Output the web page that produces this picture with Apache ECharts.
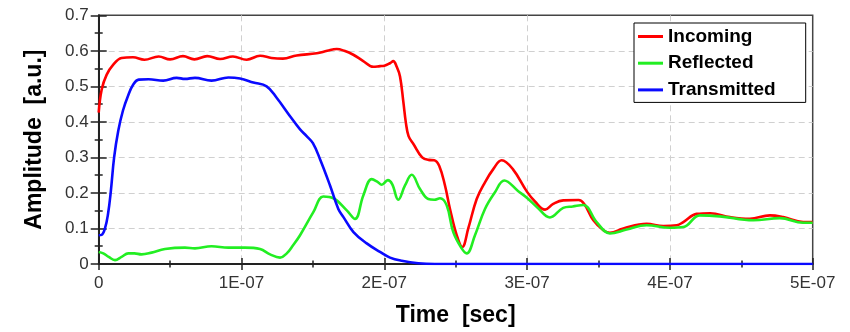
<!DOCTYPE html>
<html>
<head>
<meta charset="utf-8">
<script src="https://cdn.jsdelivr.net/npm/echarts@6/dist/echarts.min.js"></script>
<style>
html,body{margin:0;padding:0;background:#fff;}
#chart{width:850px;height:332px;}
</style>
</head>
<body>
<div id="chart"></div>
<script>
// time in ns
const xTickLabels = ['0', '1E-07', '2E-07', '3E-07', '4E-07', '5E-07'];
const yTickLabels = ['0', '0.1', '0.2', '0.3', '0.4', '0.5', '0.6', '0.7'];
const seriesNames = ['Incoming', 'Reflected', 'Transmitted'];

const incomingT = [0, 2.1, 5.6, 10.2, 16, 24, 32, 42, 50, 59, 67, 76, 85, 94, 103.6, 113, 121, 129, 138.6, 152.7, 160, 166.7, 172, 178.3, 185, 192.3, 197, 200, 204, 206.3, 208.6, 211, 213.4, 215.1, 217, 220.5, 226.5, 231, 235, 238.5, 242.5, 246, 250.7, 254.6, 258.8, 264.7, 270.5, 276.3, 282.2, 290, 300, 305.5, 312.6, 318.3, 325.3, 336, 340, 346.4, 353.4, 358, 367.4, 383.7, 395.4, 404.8, 409.4, 418.8, 428.2, 442, 456, 470, 479.4, 493.4, 500];
const incomingV = [0.426, 0.491, 0.533, 0.561, 0.580, 0.582, 0.575, 0.584, 0.576, 0.585, 0.576, 0.585, 0.577, 0.584, 0.575, 0.586, 0.580, 0.578, 0.587, 0.593, 0.600, 0.605, 0.600, 0.589, 0.572, 0.555, 0.557, 0.558, 0.565, 0.571, 0.556, 0.528, 0.454, 0.398, 0.360, 0.337, 0.300, 0.293, 0.292, 0.276, 0.221, 0.155, 0.081, 0.048, 0.100, 0.183, 0.230, 0.267, 0.292, 0.267, 0.203, 0.176, 0.153, 0.169, 0.179, 0.180, 0.169, 0.123, 0.095, 0.088, 0.100, 0.113, 0.107, 0.109, 0.118, 0.141, 0.143, 0.132, 0.127, 0.137, 0.132, 0.118, 0.118];

const reflectedT = [0, 3.2, 7, 11.4, 16, 20.7, 25, 30, 37, 46.4, 60.4, 67.4, 79, 90.8, 102.4, 113, 120, 127, 131.7, 136, 141, 150.3, 157.3, 164.3, 173.7, 179.5, 185.3, 191.2, 195, 198.2, 202.5, 205.5, 209.8, 214.5, 219.2, 225, 230.8, 235, 239, 243.7, 248.3, 254.2, 257.7, 263.5, 270.5, 277.5, 284, 293.8, 300, 307, 316, 325.3, 332, 339.4, 348.7, 358, 369.7, 383.7, 400, 409.4, 421, 435, 458.4, 477, 493.4, 500];
const reflectedV = [0.034, 0.030, 0.020, 0.011, 0.020, 0.030, 0.030, 0.027, 0.032, 0.042, 0.046, 0.044, 0.050, 0.046, 0.046, 0.042, 0.027, 0.018, 0.030, 0.052, 0.081, 0.146, 0.190, 0.185, 0.151, 0.127, 0.193, 0.239, 0.232, 0.223, 0.236, 0.225, 0.181, 0.221, 0.251, 0.211, 0.183, 0.181, 0.185, 0.165, 0.090, 0.044, 0.030, 0.081, 0.155, 0.202, 0.235, 0.205, 0.186, 0.160, 0.131, 0.158, 0.162, 0.166, 0.118, 0.086, 0.097, 0.109, 0.102, 0.104, 0.137, 0.134, 0.123, 0.129, 0.116, 0.116];

const transmittedT = [0, 2, 4.4, 6.5, 8.5, 10.8, 13.7, 17, 20.7, 24.2, 28, 35, 45.2, 54.6, 60.4, 67.4, 79, 90.8, 99, 108.3, 117.6, 124.6, 134, 141, 145.6, 150, 155, 162, 167.8, 171.4, 178.4, 187.7, 197, 204, 212.2, 223.8, 235.5, 260, 500];
const transmittedV = [0.081, 0.082, 0.100, 0.140, 0.205, 0.300, 0.375, 0.432, 0.475, 0.505, 0.519, 0.520, 0.516, 0.524, 0.521, 0.524, 0.516, 0.525, 0.522, 0.511, 0.500, 0.468, 0.416, 0.379, 0.360, 0.340, 0.295, 0.221, 0.155, 0.132, 0.090, 0.058, 0.034, 0.018, 0.009, 0.002, 0.000, 0.000, 0.000];

const colors = ['#ff0000', '#22ee22', '#0a0aff'];
const FONT = '"Liberation Sans", Arial, sans-serif';

function pairs(t, v) { return t.map((x, i) => [x, v[i]]); }

const chart = echarts.init(document.getElementById('chart'), null, { renderer: 'canvas' });

const xBase = { type: 'value', min: 0, max: 500, interval: 100, gridIndex: 0, position: 'bottom' };
const yBase = { type: 'value', min: 0, max: 0.7, interval: 0.1, gridIndex: 0, position: 'left' };
const gridSplit = { show: true, showMinLine: false, showMaxLine: false, lineStyle: { color: '#d0d0d0', type: [6, 4], width: 1 } };

chart.setOption({
  animation: false,
  backgroundColor: '#fff',
  grid: {
    left: 98.7, right: 37.3, top: 15.3, bottom: 66.4,
    show: true, borderColor: '#444', borderWidth: 1.5, backgroundColor: 'transparent'
  },
  legend: {
    orient: 'vertical',
    left: 634, top: 23,
    data: seriesNames.map((n) => ({ name: n, icon: 'rect' })),
    itemWidth: 25, itemHeight: 3, itemGap: 7.7,
    padding: [4, 30, 3, 4],
    borderColor: '#000', borderWidth: 1, backgroundColor: '#fff',
    textStyle: { fontFamily: FONT, fontSize: 19, fontWeight: 'bold', color: '#000' }
  },
  xAxis: [
    Object.assign({}, xBase, {
      name: 'Time  [sec]', nameLocation: 'middle', nameGap: 40,
      nameTextStyle: { fontFamily: FONT, fontSize: 23, fontWeight: 'bold', color: '#000' },
      axisLine: { show: true, lineStyle: { color: '#222', width: 2 } },
      axisTick: { show: true, inside: false, length: 6, lineStyle: { color: '#222', width: 1.5 } },
      minorTick: { show: true, splitNumber: 2, length: 3.5, lineStyle: { color: '#222', width: 1.5 } },
      axisLabel: { margin: 11, fontFamily: FONT, fontSize: 17, color: '#333',
        formatter: (v) => xTickLabels[Math.round(v / 100)] },
      splitLine: gridSplit
    }),
    Object.assign({}, xBase, {
      axisLine: { show: false },
      axisTick: { show: true, inside: true, length: 6, lineStyle: { color: '#222', width: 1.5 } },
      minorTick: { show: true, splitNumber: 2, length: 3.5, lineStyle: { color: '#222', width: 1.5 } },
      axisLabel: { show: false },
      splitLine: { show: false }
    })
  ],
  yAxis: [
    Object.assign({}, yBase, {
      name: 'Amplitude  [a.u.]', nameLocation: 'middle', nameGap: 53,
      nameTextStyle: { fontFamily: FONT, fontSize: 23, fontWeight: 'bold', color: '#000' },
      axisLine: { show: true, lineStyle: { color: '#222', width: 2 } },
      axisTick: { show: true, inside: false, length: 8, lineStyle: { color: '#222', width: 1.5 } },
      minorTick: { show: true, splitNumber: 2, length: 4, lineStyle: { color: '#222', width: 1.5 } },
      axisLabel: { margin: 10, fontFamily: FONT, fontSize: 17, color: '#333',
        formatter: (v) => yTickLabels[Math.round(v * 10)] },
      splitLine: gridSplit
    }),
    Object.assign({}, yBase, {
      axisLine: { show: false },
      axisTick: { show: true, inside: true, length: 8, lineStyle: { color: '#222', width: 1.5 } },
      minorTick: { show: true, splitNumber: 2, length: 4, lineStyle: { color: '#222', width: 1.5 } },
      axisLabel: { show: false },
      splitLine: { show: false }
    })
  ],
  series: [
    { name: seriesNames[0], data: pairs(incomingT, incomingV) },
    { name: seriesNames[1], data: pairs(reflectedT, reflectedV) },
    { name: seriesNames[2], data: pairs(transmittedT, transmittedV) }
  ].map((s, i) => Object.assign(s, {
    type: 'line', xAxisIndex: 0, yAxisIndex: 0,
    showSymbol: false, symbol: 'none', smooth: 0.4,
    color: colors[i],
    lineStyle: { color: colors[i], width: 2.6 },
    z: 3 + i
  }))
});
</script>
</body>
</html>
